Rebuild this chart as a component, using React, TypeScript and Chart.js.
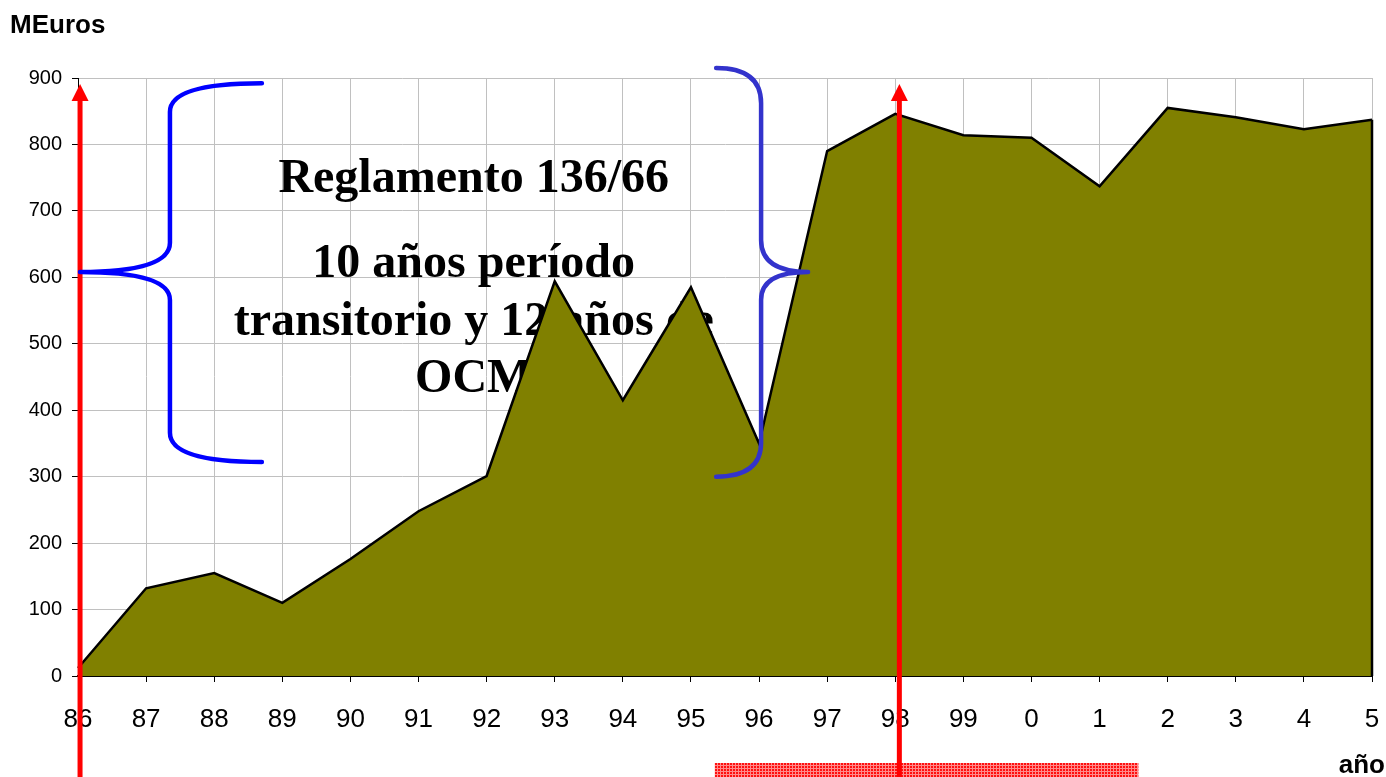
import { useEffect, useRef } from 'react';
import { Chart, registerables } from 'chart.js';

Chart.register(...registerables);

const years = ['86', '87', '88', '89', '90', '91', '92', '93', '94', '95', '96', '97', '98', '99', '0', '1', '2', '3', '4', '5'];
const values = [12, 132, 155, 110, 176, 248, 301, 594, 415, 585, 350, 790, 846, 814, 810, 737, 855, 841, 823, 837];
const yMin = 0;
const yMax = 900;
const yStep = 100;
const yTitle = 'MEuros';
const xTitle = 'año';
const noteLines = ['Reglamento 136/66', '10 años período', 'transitorio y 12 años de', 'OCM'];

const W = 1386;
const H = 777;

const annotations = {
  id: 'annotations',
  beforeDatasetsDraw(chart: any) {
    const { ctx, scales } = chart;
    const x = scales.x;
    const y = scales.y;
    ctx.save();
    ctx.fillStyle = '#000';
    ctx.font = 'bold 48px "Liberation Serif", "Times New Roman", serif';
    ctx.textAlign = 'center';
    ctx.textBaseline = 'alphabetic';
    const cx = x.getPixelForValue(5.81);
    const baseVals = [728.5, 600.5, 513, 427.5];
    noteLines.forEach((t, k) => ctx.fillText(t, cx, y.getPixelForValue(baseVals[k])));
    ctx.restore();
  },
  afterDatasetsDraw(chart: any) {
    const { ctx, scales } = chart;
    const x = scales.x;
    const y = scales.y;
    const last = values.length - 1;
    ctx.save();
    ctx.strokeStyle = '#000';
    ctx.lineWidth = 2.5;
    ctx.beginPath();
    ctx.moveTo(x.getPixelForValue(last), y.getPixelForValue(values[last]));
    ctx.lineTo(x.getPixelForValue(last), y.getPixelForValue(0));
    ctx.stroke();
    ctx.restore();
  },
  afterDraw(chart: any) {
    const { ctx, scales } = chart;
    const x = scales.x;
    const y = scales.y;
    const P = (i: number, v: number) => [x.getPixelForValue(i), y.getPixelForValue(v)];
    ctx.save();

    // titles
    ctx.fillStyle = '#000';
    ctx.font = 'bold 26px "Liberation Sans", Arial, sans-serif';
    ctx.textBaseline = 'alphabetic';
    ctx.textAlign = 'left';
    ctx.fillText(yTitle, 10, 33);
    ctx.textAlign = 'right';
    ctx.fillText(xTitle, 1385, 773);

    // hatched red bar
    const pc = document.createElement('canvas');
    pc.width = 3;
    pc.height = 3;
    const p = pc.getContext('2d')!;
    p.fillStyle = '#ff1010';
    p.fillRect(0, 0, 3, 3);
    p.fillStyle = '#ff8a8a';
    p.fillRect(0, 0, 3, 1);
    p.fillRect(0, 0, 1, 3);
    ctx.fillStyle = ctx.createPattern(pc, 'repeat');
    const bx0 = x.getPixelForValue(9.35);
    const bx1 = x.getPixelForValue(15.57);
    ctx.fillRect(bx0, 763, bx1 - bx0, 14);

    // red arrows
    const arrow = (i: number) => {
      const [ax, tip] = P(i, 891);
      ctx.fillStyle = '#ff0000';
      ctx.fillRect(ax - 2.5, tip + 14, 5, H - tip - 14);
      ctx.beginPath();
      ctx.moveTo(ax, tip);
      ctx.lineTo(ax - 8.5, tip + 17);
      ctx.lineTo(ax + 8.5, tip + 17);
      ctx.closePath();
      ctx.fill();
    };
    arrow(0.03);
    arrow(12.06);

    // braces
    ctx.lineWidth = 4.5;
    ctx.lineCap = 'round';
    ctx.lineJoin = 'round';
    const brace = (
      color: string,
      endI: number,
      vertI: number,
      cuspI: number,
      vTop: number,
      vTopV: number,
      vMidTop: number,
      vCusp: number,
      vMidBot: number,
      vBotV: number,
      vBot: number
    ) => {
      ctx.strokeStyle = color;
      ctx.beginPath();
      let a = P(endI, vTop);
      ctx.moveTo(a[0], a[1]);
      let c = P(vertI, vTop);
      let b = P(vertI, vTopV);
      ctx.quadraticCurveTo(c[0], c[1], b[0], b[1]);
      b = P(vertI, vMidTop);
      ctx.lineTo(b[0], b[1]);
      c = P(vertI, vCusp);
      b = P(cuspI, vCusp);
      ctx.quadraticCurveTo(c[0], c[1], b[0], b[1]);
      b = P(vertI, vMidBot);
      ctx.quadraticCurveTo(c[0], c[1], b[0], b[1]);
      b = P(vertI, vBotV);
      ctx.lineTo(b[0], b[1]);
      c = P(vertI, vBot);
      b = P(endI, vBot);
      ctx.quadraticCurveTo(c[0], c[1], b[0], b[1]);
      ctx.stroke();
    };
    brace('#0000ff', 2.7, 1.35, 0.03, 892, 849, 652, 608, 566, 366, 322);
    brace('#3333cc', 9.37, 10.03, 10.72, 915, 862, 656, 608, 566, 351, 300);

    ctx.restore();
  },
};

export default function App() {
  const ref = useRef<HTMLCanvasElement | null>(null);
  useEffect(() => {
    if (!ref.current) return;
    const chart = new Chart(ref.current, {
      type: 'line',
      data: {
        labels: years,
        datasets: [
          {
            data: values,
            fill: 'origin',
            backgroundColor: '#808000',
            borderColor: '#000000',
            borderWidth: 2.5,
            pointRadius: 0,
            tension: 0,
          },
        ],
      },
      options: {
        responsive: false,
        animation: false,
        events: [],
        layout: { padding: { top: 78, right: 14, left: 0, bottom: 0 } },
        plugins: { legend: { display: false }, tooltip: { enabled: false }, title: { display: false } },
        scales: {
          x: {
            type: 'category',
            offset: false,
            grid: { color: '#c0c0c0', lineWidth: 1, tickColor: '#000', tickLength: 6, drawTicks: true },
            border: { color: '#000', width: 2 },
            ticks: {
              color: '#000',
              font: { family: '"Liberation Sans", Arial, sans-serif', size: 26, lineHeight: 2.65 },
              padding: 3,
              maxRotation: 0,
              autoSkip: false,
            },
            afterFit(scale: any) {
              scale.height = 101;
            },
          },
          y: {
            min: yMin,
            max: yMax,
            grid: { color: '#c0c0c0', lineWidth: 1, tickColor: '#000', tickLength: 6 },
            border: { color: '#000', width: 1 },
            ticks: {
              stepSize: yStep,
              color: '#000',
              font: { family: '"Liberation Sans", Arial, sans-serif', size: 20 },
              padding: 10,
            },
            afterFit(scale: any) {
              scale.width = 78;
            },
          },
        },
      },
      plugins: [annotations],
    });
    return () => chart.destroy();
  }, []);
  return (
    <div style={{ position: 'fixed', left: 0, top: 0, width: W, height: H, background: '#fff' }}>
      <canvas ref={ref} width={W} height={H} style={{ display: 'block', width: W, height: H }} />
    </div>
  );
}
